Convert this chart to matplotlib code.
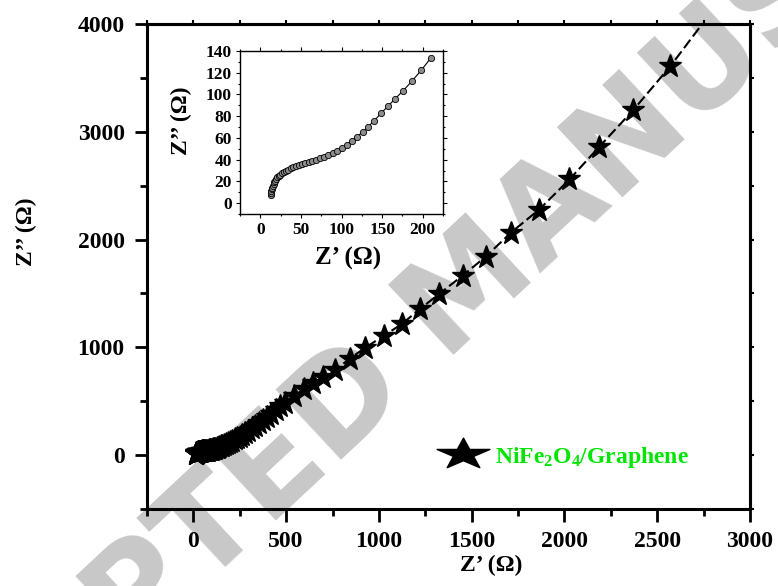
import numpy as np
import matplotlib
matplotlib.use('Agg')
import matplotlib.pyplot as plt
from matplotlib.ticker import MultipleLocator
from matplotlib.path import Path
from matplotlib.lines import Line2D

#### DATA ##########

# low Z' region (also shown in the inset), ohm
low_re = [13.0, 13.3, 13.7, 14.2, 14.8, 15.5, 16.3, 17.2, 18.3, 19.6, 21.1, 22.8,
          24.7, 26.8, 29.2, 31.8, 34.6, 37.6, 40.8, 44.2, 47.8, 51.6, 55.6, 59.8,
          64.2, 68.8, 73.6, 78.6, 83.8, 89.2, 94.8, 100.6, 106.6, 112.8, 119.2,
          126.0, 133.0, 140.5, 148.5, 157.0, 166.0, 176.0, 187.0, 198.5, 210.5]
low_im = [7.5, 9.2, 10.9, 12.6, 14.3, 16.0, 17.6, 19.2, 20.7, 22.2, 23.6, 25.0,
          26.3, 27.5, 28.7, 29.8, 30.9, 31.9, 32.9, 33.9, 34.8, 35.8, 36.8, 37.8,
          38.9, 40.1, 41.4, 42.8, 44.3, 46.0, 48.0, 50.5, 53.5, 57.0, 61.0,
          65.5, 70.5, 76.0, 82.5, 89.0, 96.0, 103.5, 112.5, 122.5, 134.0]

# rest of the spectrum (last point lies above the plotted range)
high_re = [222, 235, 249, 264, 280, 297, 315, 334, 354, 375, 397, 420, 444, 469,
           495, 543, 595, 645, 700, 763, 842, 924, 1027, 1125, 1223, 1326, 1451,
           1576, 1712, 1864, 2027, 2185, 2370, 2571, 2830]
high_im = [145, 158, 172, 188, 206, 226, 248, 272, 298, 326, 355, 386, 418, 452,
           487, 548, 612, 672, 728, 790, 893, 995, 1107, 1219, 1358, 1498, 1665,
           1842, 2065, 2279, 2558, 2856, 3200, 3609, 4200]

sample = 'NiFe$_2$O$_4$/Graphene'

z_re = np.array(low_re + high_re)
z_im = np.array(low_im + high_im)

#### STYLE ##########

plt.rcParams['font.family'] = 'Liberation Serif'
plt.rcParams['font.weight'] = 'bold'
plt.rcParams['axes.labelweight'] = 'bold'
plt.rcParams['mathtext.fontset'] = 'custom'
plt.rcParams['mathtext.rm'] = 'Liberation Serif:bold'
plt.rcParams['mathtext.it'] = 'Liberation Serif:bold'
plt.rcParams['mathtext.bf'] = 'Liberation Serif:bold'

fig = plt.figure(figsize=(7.78, 5.86), dpi=100)

# publisher watermark
fig.text(0.648, 0.474, 'ACCEPTED MANUSCRIPT', family='DejaVu Sans',
         weight='bold', fontsize=94, color='#c8c8c8', rotation=43,
         rotation_mode='anchor', ha='center', va='baseline', zorder=-10)

#### MAIN PLOT ##########

ax = fig.add_axes([0.1889, 0.1314, 0.7751, 0.8276])
ax.patch.set_alpha(0)

ax.plot(z_re, z_im, color='black', ls=(0, (5, 2)), lw=1.5,
        marker='*', ms=17, mfc='black', mec='black')

ax.set_xlim(-250, 3000)
ax.set_ylim(-500, 4000)
ax.xaxis.set_major_locator(MultipleLocator(500))
ax.xaxis.set_minor_locator(MultipleLocator(250))
ax.yaxis.set_major_locator(MultipleLocator(1000))
ax.yaxis.set_minor_locator(MultipleLocator(500))
ax.tick_params(which='major', direction='out', length=9, width=2,
               labelsize=17, pad=7)
ax.tick_params(which='minor', direction='out', length=5, width=2)
for s in ax.spines.values():
    s.set_linewidth(2.2)

# short mirror ticks on top and right
sx = ax.secondary_xaxis('top')
sx.set_xticks(np.arange(-250, 3001, 250))
sx.tick_params(length=3, width=1.5, labeltop=False)
sx.spines['top'].set_linewidth(2.2)
sy = ax.secondary_yaxis('right')
sy.set_yticks(np.arange(-500, 4001, 500))
sy.tick_params(length=3, width=1.5, labelright=False)
sy.spines['right'].set_linewidth(2.2)

ax.set_xlabel('Z\u2019 (\u03a9)', fontsize=17)
ax.xaxis.set_label_coords(0.571, -0.095)
ax.set_ylabel('Z\u2019\u2019 (\u03a9)', fontsize=17)
ax.yaxis.set_label_coords(-0.182, 0.571)

# wide star for the legend
star = Path.unit_regular_star(5, 0.381966)
wide_star = Path(star.vertices * [1.7, 1.0], star.codes)
h = Line2D([], [], ls='none', marker=wide_star, ms=38, color='black')
ax.legend([h], [sample], loc='center left', bbox_to_anchor=(0.485, 0.107),
          frameon=False, fontsize=17, handlelength=2, handletextpad=0.35,
          borderpad=0, borderaxespad=0, labelcolor='#00e600')

#### INSET ##########

axin = fig.add_axes([0.3085, 0.6348, 0.2609, 0.2782])
axin.patch.set_alpha(0)
axin.plot(low_re, low_im, color='black', lw=0.8, marker='o', ms=4.5,
          mfc='#8c8c8c', mec='black', mew=0.6)
axin.set_xlim(-25, 225)
axin.set_ylim(-10, 140)
axin.xaxis.set_major_locator(MultipleLocator(50))
axin.xaxis.set_minor_locator(MultipleLocator(25))
axin.yaxis.set_major_locator(MultipleLocator(20))
axin.yaxis.set_minor_locator(MultipleLocator(10))
axin.tick_params(which='both', direction='out', top=True, right=True)
axin.tick_params(which='major', length=3, width=0.8, labelsize=12.5, pad=3)
axin.tick_params(which='minor', length=1.5, width=0.8)
for s in axin.spines.values():
    s.set_linewidth(1)
axin.set_xlabel('Z\u2019 (\u03a9)', fontsize=18)
axin.xaxis.set_label_coords(0.532, -0.202)
axin.set_ylabel('Z\u2019\u2019 (\u03a9)', fontsize=17)
axin.yaxis.set_label_coords(-0.236, 0.57)

fig.savefig('out.png', dpi=100)
